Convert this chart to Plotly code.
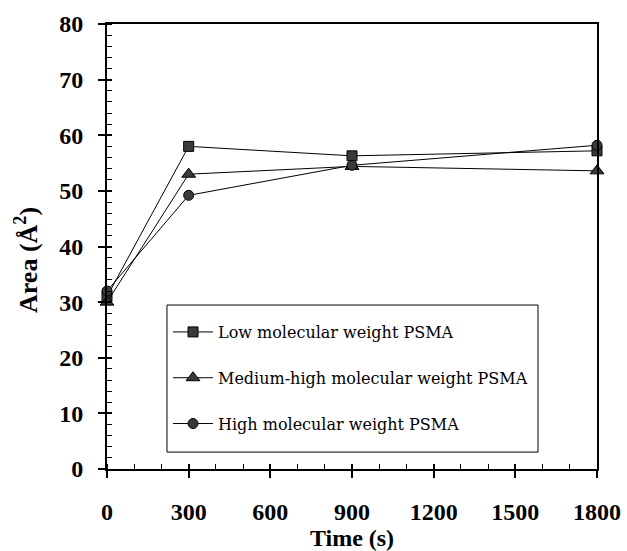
import plotly.graph_objects as go

# Area per molecule versus time for three PSMA molecular weights
time_s = [0, 300, 900, 1800]
low_mw = [31, 58, 56.3, 57.2]
medium_high_mw = [30, 53, 54.4, 53.6]
high_mw = [32, 49.2, 54.6, 58.2]

series_names = [
    "Low molecular weight PSMA",
    "Medium-high molecular weight PSMA",
    "High molecular weight PSMA",
]
series_values = [low_mw, medium_high_mw, high_mw]
symbols = ["square", "triangle-up", "circle"]
sizes = [10, 12, 10]

x_ticks = [0, 300, 600, 900, 1200, 1500, 1800]
y_ticks = [0, 10, 20, 30, 40, 50, 60, 70, 80]

tick_font = dict(family="Liberation Serif", size=24, color="black", weight="bold")

fig = go.Figure()
for i, (name, vals, sym, sz) in enumerate(zip(series_names, series_values, symbols, sizes)):
    fig.add_trace(go.Scatter(
        x=time_s, y=vals, name=name, mode="lines+markers",
        legendgroup=f"g{i}",
        line=dict(color="black", width=1),
        marker=dict(symbol=sym, size=sz, color="#3a3a3a",
                    line=dict(color="black", width=1)),
        cliponaxis=False,
    ))

# invisible trace to activate the overlay axes
fig.add_trace(go.Scatter(x=[None], y=[None], xaxis="x2", yaxis="y2",
                         showlegend=False, hoverinfo="skip"))

axis_common = dict(showgrid=False, zeroline=False, linecolor="black",
                   linewidth=2, tickcolor="black", tickwidth=1.5,
                   automargin=False)

fig.update_layout(
    width=627, height=551,
    margin=dict(l=107, r=30, t=24, b=82),
    paper_bgcolor="white", plot_bgcolor="white",
    showlegend=True,
    legend=dict(
        x=0.1245, y=0.346, xanchor="left", yanchor="top",
        borderwidth=0, bgcolor="rgba(0,0,0,0)",
        font=dict(family="DejaVu Serif", size=16, color="black"),
        traceorder="grouped", tracegroupgap=22,
        itemwidth=40,
    ),
    xaxis=dict(
        **axis_common, range=[0, 1800], tickvals=x_ticks,
        ticks="outside", ticklen=7, mirror=True,
        tickfont=tick_font, ticklabelstandoff=13,
        minor=dict(ticks="inside", dtick=100, ticklen=5,
                   tickcolor="black", tickwidth=1),
        title=dict(text="<b>Time (s)</b>", standoff=6,
                   font=dict(family="Liberation Serif", size=24, color="black")),
    ),
    yaxis=dict(
        **axis_common, range=[0, 80], tickvals=y_ticks,
        ticks="outside", ticklen=7, mirror=True,
        tickfont=tick_font, ticklabelstandoff=10,
        minor=dict(ticks="inside", dtick=2, ticklen=5,
                   tickcolor="black", tickwidth=1),
    ),
    # overlay axes give the major ticks their inner half
    xaxis2=dict(overlaying="x", matches="x", range=[0, 1800], tickvals=x_ticks,
                ticks="inside", ticklen=5, tickcolor="black", tickwidth=1.5,
                showticklabels=False, showgrid=False, zeroline=False,
                showline=False, side="bottom"),
    yaxis2=dict(overlaying="y", matches="y", range=[0, 80], tickvals=y_ticks,
                ticks="inside", ticklen=5, tickcolor="black", tickwidth=1.5,
                showticklabels=False, showgrid=False, zeroline=False,
                showline=False, side="left"),
)

# legend frame
fig.add_shape(type="rect", xref="paper", yref="paper",
              x0=0.1224, x1=0.8796, y0=0.038, y1=0.3685,
              line=dict(color="black", width=1), fillcolor="white",
              layer="below")

# y-axis title
fig.add_annotation(
    text="<b>Area (Å<sup>2</sup>)</b>", textangle=-90,
    xref="paper", yref="paper", x=-0.163, y=0.47,
    xanchor="center", yanchor="middle", showarrow=False,
    font=dict(family="Liberation Serif", size=26, color="black"),
)

fig.write_html("out.html")
